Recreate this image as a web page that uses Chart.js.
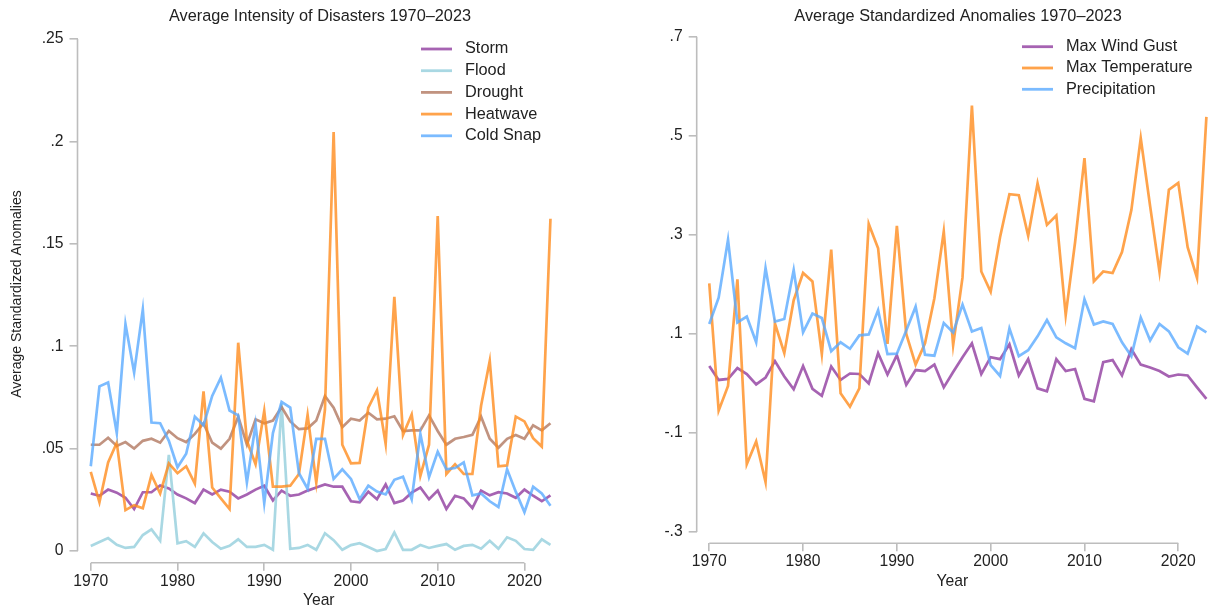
<!DOCTYPE html>
<html lang="en">
<head>
<meta charset="UTF-8">
<title>Disasters and Climate Anomalies 1970–2023</title>
<script src="https://cdn.jsdelivr.net/npm/chart.js@4.4.1/dist/chart.umd.min.js"></script>
<style>
  body { margin: 0; background: #fff; }
  #wrap { position: relative; width: 1210px; height: 612px; }
  .panel { position: absolute; top: 0; width: 605px; height: 612px; }
</style>
</head>
<body>
<div id="wrap">
  <div class="panel" style="left:0"><canvas id="intensity"></canvas></div>
  <div class="panel" style="left:605px"><canvas id="anomalies"></canvas></div>
</div>
<script>
// years on the x axis
const years = Array.from({ length: 54 }, (_, i) => 1970 + i);
const xTicks = [1970, 1980, 1990, 2000, 2010, 2020];

// left panel: average intensity by disaster type
const intensityTicks = [0, 0.05, 0.1, 0.15, 0.2, 0.25];
const intensityTickLabels = ['0', '.05', '.1', '.15', '.2', '.25'];

const storm = [0.0281, 0.027, 0.030, 0.0285, 0.026, 0.0205, 0.0287, 0.0287, 0.032, 0.0306,
  0.0276, 0.0257, 0.0234, 0.030, 0.0276, 0.030, 0.029, 0.0257, 0.0276, 0.030,
  0.0319, 0.0247, 0.0295, 0.027, 0.0276, 0.0295, 0.031, 0.0325, 0.0314, 0.0314,
  0.0243, 0.0238, 0.029, 0.0253, 0.0325, 0.0234, 0.0247, 0.0285, 0.031, 0.0253,
  0.0295, 0.0205, 0.027, 0.0257, 0.021, 0.0295, 0.0272, 0.0287, 0.0281, 0.026,
  0.030, 0.027, 0.0243, 0.0272];
const flood = [0.0025, 0.0044, 0.0063, 0.003, 0.0015, 0.002, 0.0078, 0.0106, 0.005, 0.047,
  0.0038, 0.0048, 0.002, 0.0086, 0.0044, 0.0011, 0.0025, 0.0057, 0.002, 0.002,
  0.003, 0.0006, 0.072, 0.0011, 0.0015, 0.003, 0.0006, 0.0087, 0.0053, 0.0006,
  0.0029, 0.0038, 0.002, 0.0, 0.001, 0.0091, 0.0006, 0.0006, 0.0029, 0.0015,
  0.0025, 0.0034, 0.0006, 0.0025, 0.003, 0.0011, 0.005, 0.0011, 0.0067, 0.005,
  0.001, 0.0006, 0.0057, 0.003];
const drought = [0.0519, 0.0519, 0.0553, 0.0513, 0.0532, 0.050, 0.0538, 0.0548, 0.0529, 0.0586,
  0.0551, 0.0532, 0.0572, 0.0624, 0.0529, 0.050, 0.0548, 0.0656, 0.0519, 0.0643,
  0.0624, 0.0637, 0.0703, 0.0633, 0.0595, 0.0599, 0.0637, 0.0757, 0.070, 0.0605,
  0.0646, 0.0637, 0.0675, 0.0643, 0.0646, 0.0658, 0.0586, 0.0589, 0.0589, 0.0662,
  0.0586, 0.0519, 0.0548, 0.0557, 0.0567, 0.0656, 0.0548, 0.0504, 0.0548, 0.0567,
  0.0548, 0.0614, 0.0589, 0.0624];
const heatwave = [0.0386, 0.0238, 0.0433, 0.0529, 0.020, 0.0224, 0.0209, 0.0371, 0.0281, 0.0428,
  0.038, 0.0414, 0.0329, 0.078, 0.031, 0.0257, 0.0205, 0.1017, 0.0538, 0.0424,
  0.0684, 0.0314, 0.0314, 0.0319, 0.0376, 0.0665, 0.0333, 0.069, 0.2046, 0.0519,
  0.0428, 0.043, 0.070, 0.0785, 0.0523, 0.1241, 0.0567, 0.0667, 0.0367, 0.0519,
  0.1635, 0.0376, 0.0424, 0.0376, 0.0376, 0.0709, 0.0928, 0.0414, 0.0418, 0.0656,
  0.0633, 0.0551, 0.051, 0.1622];
const coldSnap = [0.0414, 0.0804, 0.0823, 0.0576, 0.1108, 0.0871, 0.118, 0.0627, 0.0624, 0.0538,
  0.0409, 0.0475, 0.0656, 0.0614, 0.0757, 0.0846, 0.0686, 0.0662, 0.0335, 0.0618,
  0.0234, 0.0576, 0.0728, 0.070, 0.038, 0.0304, 0.0548, 0.0548, 0.0352, 0.0399,
  0.0352, 0.0253, 0.0319, 0.029, 0.0276, 0.0348, 0.0363, 0.0253, 0.0572, 0.0361,
  0.0485, 0.0399, 0.0405, 0.0433, 0.0272, 0.0281, 0.0243, 0.0215, 0.0399, 0.029,
  0.019, 0.0314, 0.0281, 0.0221];

// right panel: standardized weather anomalies
const anomalyTicks = [-0.3, -0.1, 0.1, 0.3, 0.5, 0.7];
const anomalyTickLabels = ['-.3', '-.1', '.1', '.3', '.5', '.7'];

const maxWindGust = [0.035, 0.007, 0.009, 0.031, 0.019, -0.002, 0.012, 0.045, 0.014, -0.012,
  0.035, -0.011, -0.025, 0.034, 0.007, 0.020, 0.019, 0.0, 0.061, 0.018,
  0.057, -0.003, 0.027, 0.025, 0.038, -0.008, 0.023, 0.053, 0.081, 0.019,
  0.053, 0.049, 0.079, 0.016, 0.049, -0.010, -0.016, 0.049, 0.025, 0.029,
  -0.031, -0.036, 0.043, 0.047, 0.016, 0.069, 0.038, 0.032, 0.025, 0.014,
  0.018, 0.016, -0.008, -0.031];
const maxTemperature = [0.202, -0.055, -0.005, 0.21, -0.163, -0.117, -0.199, 0.121, 0.061, 0.168,
  0.223, 0.206, 0.059, 0.27, -0.02, -0.047, -0.01, 0.322, 0.273, 0.08,
  0.318, 0.1, 0.038, 0.081, 0.172, 0.307, 0.077, 0.214, 0.561, 0.226,
  0.185, 0.295, 0.382, 0.38, 0.298, 0.404, 0.32, 0.339, 0.138, 0.285,
  0.455, 0.206, 0.226, 0.223, 0.265, 0.35, 0.495, 0.358, 0.225, 0.391,
  0.405, 0.275, 0.213, 0.538];
const precipitation = [0.12, 0.173, 0.29, 0.123, 0.135, 0.083, 0.233, 0.125, 0.13, 0.229,
  0.103, 0.141, 0.132, 0.065, 0.083, 0.07, 0.097, 0.099, 0.148, 0.059,
  0.06, 0.107, 0.155, 0.058, 0.056, 0.122, 0.103, 0.159, 0.105, 0.112,
  0.037, 0.015, 0.111, 0.055, 0.067, 0.095, 0.128, 0.093, 0.081, 0.071,
  0.17, 0.119, 0.125, 0.12, 0.083, 0.055, 0.133, 0.087, 0.12, 0.105,
  0.073, 0.06, 0.115, 0.103];

const FONT = '"Liberation Sans", Arial, sans-serif';
const TEXT = '#222';
const AXIS = '#bdbdbd';

const PURPLE = 'rgba(150, 72, 165, 0.85)';
const LIGHTBLUE = 'rgba(160, 212, 224, 0.9)';
const BROWN = 'rgba(182, 128, 106, 0.85)';
const ORANGE = 'rgba(255, 140, 30, 0.8)';
const BLUE = 'rgba(90, 170, 255, 0.8)';

// axis lines only span first..last tick; title, y title and legend drawn on the canvas
const framePlugin = {
  id: 'frame',
  beforeDatasetsDraw(chart) {
    const { ctx, chartArea: a, scales: { x, y } } = chart;
    ctx.save();
    ctx.strokeStyle = AXIS;
    ctx.lineWidth = 1.6;
    ctx.beginPath();
    ctx.moveTo(x.getPixelForValue(x.ticks[0].value), a.bottom);
    ctx.lineTo(x.getPixelForValue(x.ticks[x.ticks.length - 1].value), a.bottom);
    ctx.moveTo(a.left, y.getPixelForValue(y.ticks[0].value));
    ctx.lineTo(a.left, y.getPixelForValue(y.ticks[y.ticks.length - 1].value));
    ctx.stroke();
    ctx.restore();
  },
  afterDraw(chart, args, o) {
    const ctx = chart.ctx;
    ctx.save();
    ctx.fillStyle = TEXT;
    ctx.textBaseline = 'middle';
    ctx.font = '16.3px ' + FONT;
    ctx.textAlign = 'center';
    ctx.fillText(o.title, o.titleX, 16.5);

    if (o.yTitle) {
      ctx.save();
      ctx.translate(17, o.yTitleY);
      ctx.rotate(-Math.PI / 2);
      ctx.font = '14px ' + FONT;
      ctx.fillText(o.yTitle, 0, 0);
      ctx.restore();
    }

    ctx.textAlign = 'left';
    ctx.font = '16.3px ' + FONT;
    chart.data.datasets.forEach((d, i) => {
      const yy = o.legendY + i * o.legendGap;
      ctx.strokeStyle = d.borderColor;
      ctx.lineWidth = 2.8;
      ctx.beginPath();
      ctx.moveTo(o.legendX, yy);
      ctx.lineTo(o.legendX + 31, yy);
      ctx.stroke();
      ctx.fillText(d.label, o.legendX + 44, yy);
    });
    ctx.restore();
  }
};

function makePanel(id, p) {
  return new Chart(document.getElementById(id), {
    type: 'line',
    data: {
      datasets: p.series.map((s, i) => ({
        label: s.label,
        data: s.values.map((v, j) => ({ x: years[j], y: v })),
        borderColor: s.color,
        borderWidth: 2.7,
        pointRadius: 0,
        tension: 0,
        fill: false,
        order: p.series.length - i,
        clip: 6
      }))
    },
    options: {
      responsive: true,
      maintainAspectRatio: false,
      animation: false,
      layout: { padding: p.padding },
      plugins: {
        legend: { display: false },
        tooltip: { enabled: false },
        frame: { title: p.title, titleX: p.titleX, yTitle: p.yTitle, yTitleY: 294,
                 legendX: p.legendX, legendY: p.legendY, legendGap: p.legendGap }
      },
      scales: {
        x: {
          type: 'linear',
          min: p.xMin,
          max: p.xMax,
          afterBuildTicks: s => { s.ticks = xTicks.map(v => ({ value: v })); },
          afterFit: s => { s.height = p.xHeight; },
          border: { display: false },
          grid: { drawOnChartArea: false, drawTicks: true, tickLength: 8, color: AXIS, lineWidth: 1.6 },
          ticks: { color: TEXT, font: { family: FONT, size: 15.7 }, padding: p.xTickPad, maxRotation: 0,
                   callback: v => String(v) },
          title: { display: true, text: 'Year', color: TEXT, font: { family: FONT, size: 15.7 },
                   padding: { top: 0, bottom: p.xTitlePad } }
        },
        y: {
          min: p.yMin,
          max: p.yMax,
          afterBuildTicks: s => { s.ticks = p.yTicks.map(v => ({ value: v })); },
          afterFit: s => { s.width = p.yWidth; },
          border: { display: false },
          grid: { drawOnChartArea: false, drawTicks: true, tickLength: 8, color: AXIS, lineWidth: 1.6 },
          ticks: { color: TEXT, font: { family: FONT, size: 15.7 }, padding: 6,
                   callback: (v, i) => p.yTickLabels[i] }
        }
      }
    },
    plugins: [framePlugin]
  });
}

makePanel('intensity', {
  title: 'Average Intensity of Disasters 1970–2023',
  titleX: 320,
  yTitle: 'Average Standardized Anomalies',
  series: [
    { label: 'Storm', values: storm, color: PURPLE },
    { label: 'Flood', values: flood, color: LIGHTBLUE },
    { label: 'Drought', values: drought, color: BROWN },
    { label: 'Heatwave', values: heatwave, color: ORANGE },
    { label: 'Cold Snap', values: coldSnap, color: BLUE }
  ],
  yTicks: intensityTicks,
  yTickLabels: intensityTickLabels,
  yMin: -0.0057, yMax: 0.25,
  xMin: 1968.47, xMax: 2024.1,
  padding: { top: 39, right: 45, bottom: 0, left: 0 },
  yWidth: 77.5, xHeight: 49.3, xTickPad: 1.5, xTitlePad: 1.5,
  legendX: 421, legendY: 49, legendGap: 21.7
});

makePanel('anomalies', {
  title: 'Average Standardized Anomalies 1970–2023',
  titleX: 353,
  yTitle: '',
  series: [
    { label: 'Max Wind Gust', values: maxWindGust, color: PURPLE },
    { label: 'Max Temperature', values: maxTemperature, color: ORANGE },
    { label: 'Precipitation', values: precipitation, color: BLUE }
  ],
  yTicks: anomalyTicks,
  yTickLabels: anomalyTickLabels,
  yMin: -0.3228, yMax: 0.7,
  xMin: 1968.66, xMax: 2023.17,
  padding: { top: 36.7, right: 2, bottom: 20, left: 0 },
  yWidth: 91.7, xHeight: 48.7, xTickPad: 0.5, xTitlePad: 1,
  legendX: 417, legendY: 46.7, legendGap: 21.3
});
</script>
</body>
</html>
